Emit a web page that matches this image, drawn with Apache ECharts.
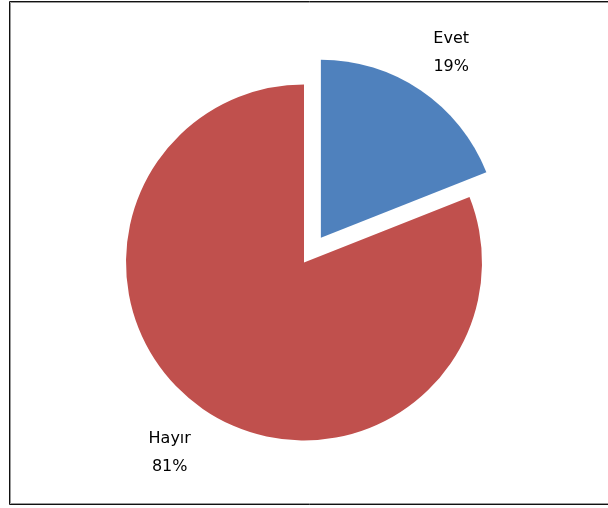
<!DOCTYPE html>
<html><head><meta charset="utf-8">
<script src="https://cdn.jsdelivr.net/npm/echarts@6/dist/echarts.min.js"></script>
<style>html,body{margin:0;padding:0;background:#fff}#c{width:608px;height:508px}</style>
</head><body><div id="c"></div>
<script>
const categories = ['Evet', 'Hayır'];
const values = [19, 81];
const colors = ['#4F81BD', '#C0504D'];
const labelGaps = [45, 52];

const chart = echarts.init(document.getElementById('c'), null, {renderer: 'canvas'});
chart.setOption({
  animation: false,
  backgroundColor: '#fff',
  graphic: [
    {type: 'rect', shape: {x: 9.5, y: 1.5, width: 620, height: 503}, style: {fill: 'none', stroke: '#111', lineWidth: 1}, silent: true},
    {type: 'rect', shape: {x: 10.5, y: 2.5, width: 620, height: 501}, style: {fill: 'none', stroke: '#999', lineWidth: 1}, silent: true}
  ],
  series: [{
    type: 'pie',
    center: [304, 262.5],
    radius: 178,
    startAngle: 90,
    clockwise: true,
    selectedMode: 'multiple',
    selectedOffset: 30,
    emphasis: {disabled: true},
    label: {
      show: true,
      position: 'outside',
      formatter: p => p.name + '\n' + Math.round(p.percent) + '%',
      fontFamily: 'DejaVu Sans',
      fontSize: 16,
      color: '#000',
      lineHeight: 28
    },
    labelLine: {show: false, length: 52, length2: 0},
    labelLayout: {align: 'center', verticalAlign: 'middle'},
    data: categories.map((c, i) => ({
      name: c, value: values[i], selected: i === 0,
      itemStyle: {color: colors[i]},
      labelLine: {show: false, length: labelGaps[i], length2: 0}
    }))
  }]
});
</script></body></html>
